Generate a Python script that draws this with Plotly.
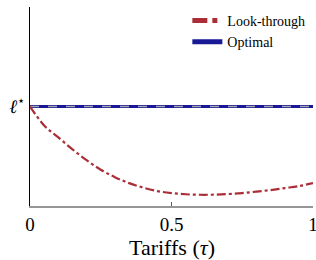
import plotly.graph_objects as go

# Data
tau = [0.0, 0.05, 0.1, 0.15, 0.2, 0.25, 0.3, 0.35, 0.4, 0.45, 0.5, 0.55, 0.6, 0.65, 0.7, 0.75, 0.8, 0.85, 0.9, 0.95, 1.0]
look_through = [1.0, 0.81, 0.69, 0.57, 0.46, 0.365, 0.29, 0.23, 0.185, 0.15, 0.13, 0.118, 0.113, 0.114, 0.12, 0.13, 0.145, 0.16, 0.18, 0.2, 0.23]
tau_opt = [0.0, 1.0]
optimal = [1.0, 1.0]
x_ticks = [0, 0.5, 1]
x_tick_labels = ["0", "0.5", "1"]
y_ticks = [1.0]
y_tick_labels = ["<i>ℓ</i><sup>⋆</sup>"]
x_title = "Tariffs (<i>τ</i>)"

FONT = "Liberation Serif"
RED = "rgb(170,45,55)"
BLUE = "rgb(25,25,150)"

fig = go.Figure()
fig.add_trace(go.Scatter(x=tau_opt, y=optimal, mode="lines", name="Optimal",
                         line=dict(color=BLUE, width=3)))
fig.add_trace(go.Scatter(x=tau_opt, y=optimal, mode="lines", showlegend=False,
                         line=dict(color="rgb(165,165,175)", width=1.3, dash="dash")))
fig.add_trace(go.Scatter(x=tau, y=look_through, mode="lines", name="Look-through",
                         line=dict(color=RED, width=2.2, dash="dashdot", shape="spline")))

fig.update_layout(
    width=316, height=260,
    margin=dict(l=30, r=3, t=7, b=54),
    paper_bgcolor="white", plot_bgcolor="white",
    font=dict(family=FONT, color="black"),
    showlegend=True,
    legend=dict(x=0.556, y=1.01, xanchor="left", yanchor="top",
                bgcolor="rgba(0,0,0,0)", font=dict(size=14, family=FONT, color="black"),
                traceorder="reversed", itemwidth=30, tracegroupgap=0,
                itemsizing="constant"),
    xaxis=dict(range=[0, 1], tickvals=x_ticks, ticktext=x_tick_labels,
               showgrid=False, zeroline=False, showline=True, automargin=False,
               linecolor="rgb(150,150,150)", linewidth=2,
               ticks="inside", ticklen=4, tickcolor="rgb(90,90,90)",
               ticklabeloverflow="allow",
               tickfont=dict(size=19, family=FONT)),
    yaxis=dict(range=[0, 2], tickvals=y_ticks, ticktext=y_tick_labels,
               showgrid=False, zeroline=False, showline=True, automargin=False,
               linecolor="black", linewidth=1, ticks="",
               tickfont=dict(size=19, family=FONT)),
    annotations=[dict(text=x_title, xref="paper", yref="paper", x=0.5, y=-0.211,
                      xanchor="center", yanchor="middle", showarrow=False,
                      font=dict(size=22, family=FONT, color="black"))],
)

fig.write_html("out.html", config={"displayModeBar": False},
               post_script="document.body.style.margin='0';document.body.style.overflow='hidden';")
